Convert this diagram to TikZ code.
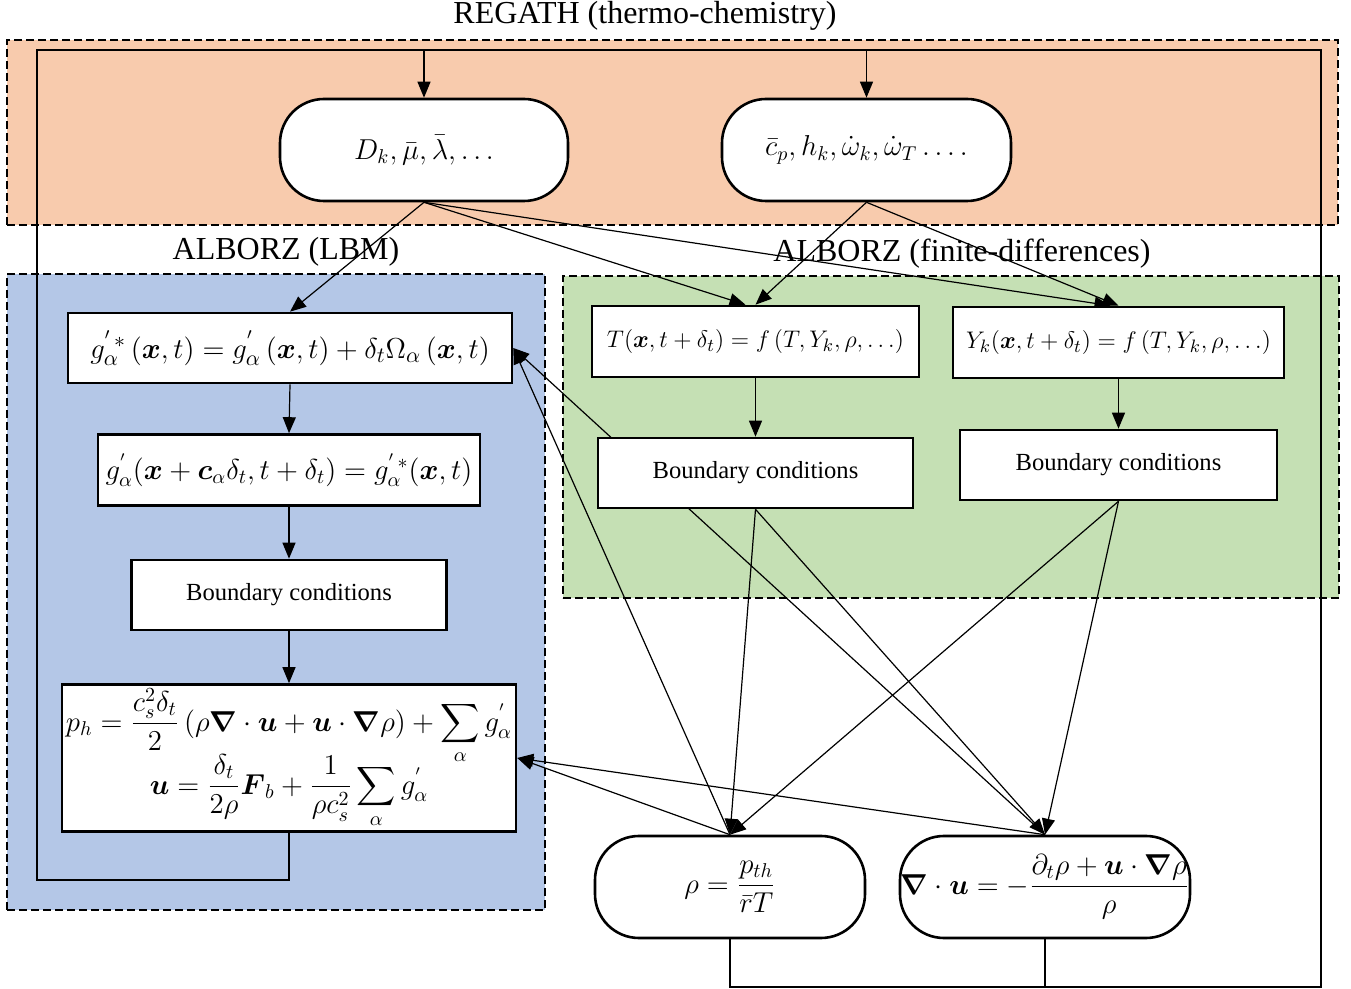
\documentclass[tikz,border=0pt]{standalone}
\usepackage{amsmath}
\usepackage{amssymb}
\usepackage[no-math]{fontspec}
\setmainfont{Liberation Serif}
\usetikzlibrary{arrows.meta,calc}
\pgfdeclarelayer{back}
\pgfdeclarelayer{mid}
\pgfsetlayers{back,mid,main}
\definecolor{peach}{RGB}{248,203,173}
\definecolor{lblue}{RGB}{180,199,231}
\definecolor{lgreen}{RGB}{197,224,180}
\begin{document}
\begin{tikzpicture}[x=0.5pt,y=-0.5pt,
  region/.style={draw=black, line width=1.1pt, dash pattern=on 4pt off 2pt, inner sep=0pt},
  eqbox/.style={draw=black, line width=1.3pt, fill=white, inner sep=1pt, font=\fontsize{14}{17}\selectfont},
  bcbox/.style={eqbox, font=\fontsize{12.3}{15}\selectfont},
  pill/.style={eqbox, rounded corners=22pt},
  titletext/.style={inner sep=0pt, font=\fontsize{16}{19}\selectfont},
  arr/.style={draw=black, line width=0.6pt, -{Triangle[length=8pt,width=6.5pt]}},
  fb/.style={draw=black, line width=0.8pt}]
\useasboundingbox (0,0) rectangle (1351,989);

% titles
\node[titletext] (t1) at (645,16) {REGATH (thermo-chemistry)};
\node[titletext] (t2) at (286,252) {ALBORZ (LBM)};
\node[titletext] (t3) at (962,254) {ALBORZ (finite-differences)};

% REGATH nodes
\node[pill, minimum width=144pt, minimum height=51pt] (Dk) at (424,150) {$D_k, \bar{\mu}, \bar{\lambda}, \ldots$};
\node[pill, minimum width=144.5pt, minimum height=51pt] (cp) at (866.5,150) {$\bar{c}_p, h_k, \dot{\omega}_k, \dot{\omega}_T\ldots.$};

% LBM nodes
\node[eqbox, minimum width=222pt, minimum height=35pt, font=\fontsize{15.2}{18}\selectfont, inner sep=0pt] (gs) at (290,348)
  {$g_{\alpha}^{'\,*}\left(\boldsymbol{x},t\right) = g_{\alpha}^{'}\left(\boldsymbol{x},t\right) + \delta_t\Omega_{\alpha}\left(\boldsymbol{x},t\right)$};
\node[eqbox, minimum width=191pt, minimum height=35.5pt, inner sep=0pt] (st) at (289,470)
  {$g_{\alpha}^{'}(\boldsymbol{x}+\boldsymbol{c}_{\alpha}\delta_t, t+\delta_t) = g_{\alpha}^{'\,*}(\boldsymbol{x},t)$};
\node[bcbox, minimum width=157.5pt, minimum height=35pt] (bcL) at (289,595) {Boundary conditions};
\node[eqbox, minimum width=227pt, minimum height=73.5pt, align=center, inner sep=0pt, font=\fontsize{13.6}{16}\selectfont] (ph) at (289,758)
  {$\displaystyle p_h = \frac{c_s^2\delta_t}{2}\left(\rho\boldsymbol{\nabla}\cdot\boldsymbol{u}+\boldsymbol{u}\cdot\boldsymbol{\nabla}\rho\right)+\sum_{\alpha} g_{\alpha}^{'}$\\[-6pt]
   $\displaystyle \boldsymbol{u} = \frac{\delta_t}{2\rho}\boldsymbol{F}_b + \frac{1}{\rho c_s^2}\sum_{\alpha} g_{\alpha}^{'}$};

% FD nodes
\node[eqbox, minimum width=163.5pt, minimum height=35.5pt, font=\fontsize{13}{16}\selectfont, inner sep=0pt] (T) at (755.5,341.5)
  {$T(\boldsymbol{x},t+\delta_t) = f\left(T, Y_k, \rho, \ldots\right)$};
\node[eqbox, minimum width=165.5pt, minimum height=35.5pt, font=\fontsize{13}{16}\selectfont, inner sep=0pt] (Y) at (1118.5,342.5)
  {$Y_k(\boldsymbol{x},t+\delta_t) = f\left(T, Y_k, \rho, \ldots\right)$};
\node[bcbox, minimum width=157.5pt, minimum height=35pt] (bcT) at (755.5,473) {Boundary conditions};
\node[bcbox, minimum width=158.5pt, minimum height=35pt] (bcY) at (1118.5,465) {Boundary conditions};

% bottom nodes
\node[pill, minimum width=135pt, minimum height=51pt] (rho) at (730,887) {$\rho = \dfrac{p_{th}}{\bar{r}T}$};
\node[pill, minimum width=145pt, minimum height=51pt, inner sep=0pt] (divu) at (1045,887)
  {$\boldsymbol{\nabla}\cdot\boldsymbol{u} = -\dfrac{\partial_t\rho+\boldsymbol{u}\cdot\boldsymbol{\nabla}\rho}{\rho}$};

% regions
\begin{pgfonlayer}{back}
\node[region, fill=peach, minimum width=665.5pt, minimum height=92.5pt] (regath) at (672.5,132.5) {};
\node[region, fill=lblue, minimum width=269pt, minimum height=318pt] (lbm) at (276,592) {};
\node[region, fill=lgreen, minimum width=388pt, minimum height=161pt] (fd) at (951,437) {};
\end{pgfonlayer}

% connectors
\begin{pgfonlayer}{mid}
\coordinate (tl) at (37,50);
\coordinate (tr) at (1321,50);
\coordinate (bl) at (37,880);
\coordinate (br) at (1321,987);
\draw[fb] (ph.south) -- (ph.south |- bl) -- (bl) -- (tl) -- (tr) -- (br) -- (rho.south |- br) -- (rho.south);
\draw[fb, line width=0.6pt] (divu.south) -- (divu.south |- br);
\draw[arr] (Dk.north |- tl) -- (Dk.north);
\draw[arr] (cp.north |- tl) -- (cp.north);

\draw[arr] (Dk.south) -- (gs.north);
\draw[arr] (Dk.south) -- ($(T.north)+(-10,0)$);
\draw[arr] (Dk.south) -- ($(Y.north)+(-8,0)$);
\draw[arr] (cp.south) -- (T.north);
\draw[arr] (cp.south) -- (Y.north);

\draw[arr] (gs.south) -- (st.north);
\draw[arr] (st.south) -- (bcL.north);
\draw[arr] (bcL.south) -- (ph.north);
\draw[arr] (T.south) -- (bcT.north);
\draw[arr] (Y.south) -- (bcY.north);

\draw[arr] (bcT.south) -- (rho.north);
\draw[arr] (bcT.south) -- (divu.north);
\draw[arr] (bcY.south) -- (rho.north);
\draw[arr] (bcY.south) -- (divu.north);

\draw[arr] (rho.north) -- (gs.east);
\draw[arr] (divu.north) -- (gs.east);
\draw[arr] (rho.north) -- (ph.east);
\draw[arr] (divu.north) -- (ph.east);
\end{pgfonlayer}
\end{tikzpicture}
\end{document}
